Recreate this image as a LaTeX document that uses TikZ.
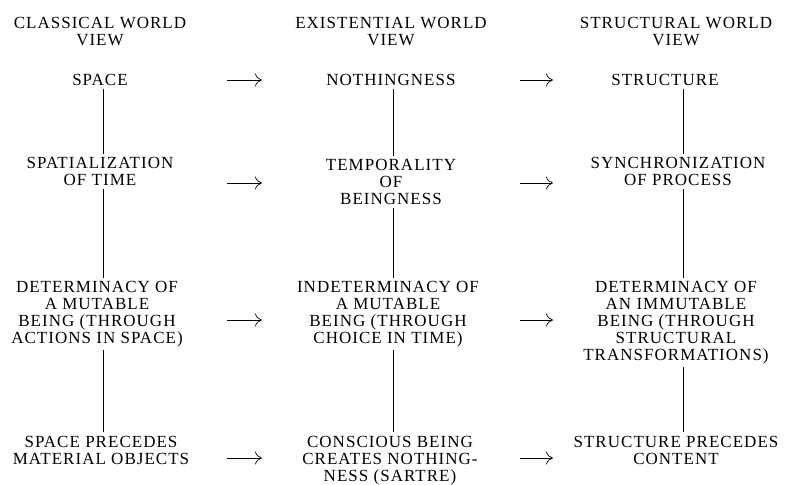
\documentclass[tikz,border=0pt]{standalone}
\usepackage{fontspec}
\setmainfont{Liberation Serif}[LetterSpace=6]
\usetikzlibrary{arrows.meta}
\begin{document}
\begin{tikzpicture}[x=1pt,y=-1pt,
  txt/.style={anchor=north,inner sep=0pt,align=center,font=\fontsize{17}{17}\selectfont},
  conn/.style={line width=0.75pt,shorten <=2.5pt,shorten >=4pt},
  arr/.style={line width=0.7pt,-{To[length=7pt,width=13pt]}}]
\useasboundingbox[fill=white] (0,0) rectangle (786,484);
% headers
\node[txt] (h1) at (100,17.5) {CLASSICAL WORLD\\VIEW};
\node[txt] (h2) at (391,17.5) {EXISTENTIAL WORLD\\VIEW};
\node[txt] (h3) at (676,17.5) {STRUCTURAL WORLD\\VIEW};
% row 1
\node[txt] (a1) at (100,74.5) {SPACE};
\node[txt] (b1) at (391,74.5) {NOTHINGNESS};
\node[txt] (c1) at (665,74.5) {STRUCTURE};
% row 2
\node[txt] (a2) at (100,157.5) {SPATIALIZATION\\OF TIME};
\node[txt] (b2) at (391,159.5) {TEMPORALITY\\OF\\BEINGNESS};
\node[txt] (c2) at (678,157.5) {SYNCHRONIZATION\\OF PROCESS};
% row 3
\node[txt] (a3) at (97,281.5) {DETERMINACY OF\\A MUTABLE\\BEING (THROUGH\\ACTIONS IN SPACE)};
\node[txt] (b3) at (388,281.5) {INDETERMINACY OF\\A MUTABLE\\BEING (THROUGH\\CHOICE IN TIME)};
\node[txt] (c3) at (676,281.5) {DETERMINACY OF\\AN IMMUTABLE\\BEING (THROUGH\\STRUCTURAL\\TRANSFORMATIONS)};
% row 4
\node[txt] (a4) at (101,436) {SPACE PRECEDES\\MATERIAL OBJECTS};
\node[txt] (b4) at (390,436) {CONSCIOUS BEING\\CREATES NOTHING-\\NESS (SARTRE)};
\node[txt] (c4) at (676,436) {STRUCTURE PRECEDES\\CONTENT};
% vertical line columns
\coordinate (L1) at (103,0);
\coordinate (L2) at (393,0);
\coordinate (L3) at (683,0);
\draw[conn] (a1.south -| L1) -- (a2.north -| L1);
\draw[conn] (a2.south -| L1) -- (a3.north -| L1);
\draw[conn] (a3.south -| L1) -- (a4.north -| L1);
\draw[conn] (b1.south -| L2) -- (b2.north -| L2);
\draw[conn] (b2.south -| L2) -- (b3.north -| L2);
\draw[conn] (b3.south -| L2) -- (b4.north -| L2);
\draw[conn] (c1.south -| L3) -- (c2.north -| L3);
\draw[conn] (c2.south -| L3) -- (c3.north -| L3);
\draw[conn] (c3.south -| L3) -- (c4.north -| L3);
% arrows
\coordinate (r1s) at (227,80);  \coordinate (r1e) at (262,80);
\coordinate (r1t) at (520,80);  \coordinate (r1u) at (553,80);
\coordinate (r2s) at (227,183); \coordinate (r2e) at (262,183);
\coordinate (r2t) at (520,183); \coordinate (r2u) at (553,183);
\coordinate (r3s) at (227,320); \coordinate (r3e) at (262,320);
\coordinate (r3t) at (520,320); \coordinate (r3u) at (553,320);
\coordinate (r4s) at (227,458); \coordinate (r4e) at (262,458);
\coordinate (r4t) at (520,458); \coordinate (r4u) at (553,458);
\draw[arr] (r1s) -- (r1e);
\draw[arr] (r1t) -- (r1u);
\draw[arr] (r2s) -- (r2e);
\draw[arr] (r2t) -- (r2u);
\draw[arr] (r3s) -- (r3e);
\draw[arr] (r3t) -- (r3u);
\draw[arr] (r4s) -- (r4e);
\draw[arr] (r4t) -- (r4u);
\end{tikzpicture}
\end{document}
